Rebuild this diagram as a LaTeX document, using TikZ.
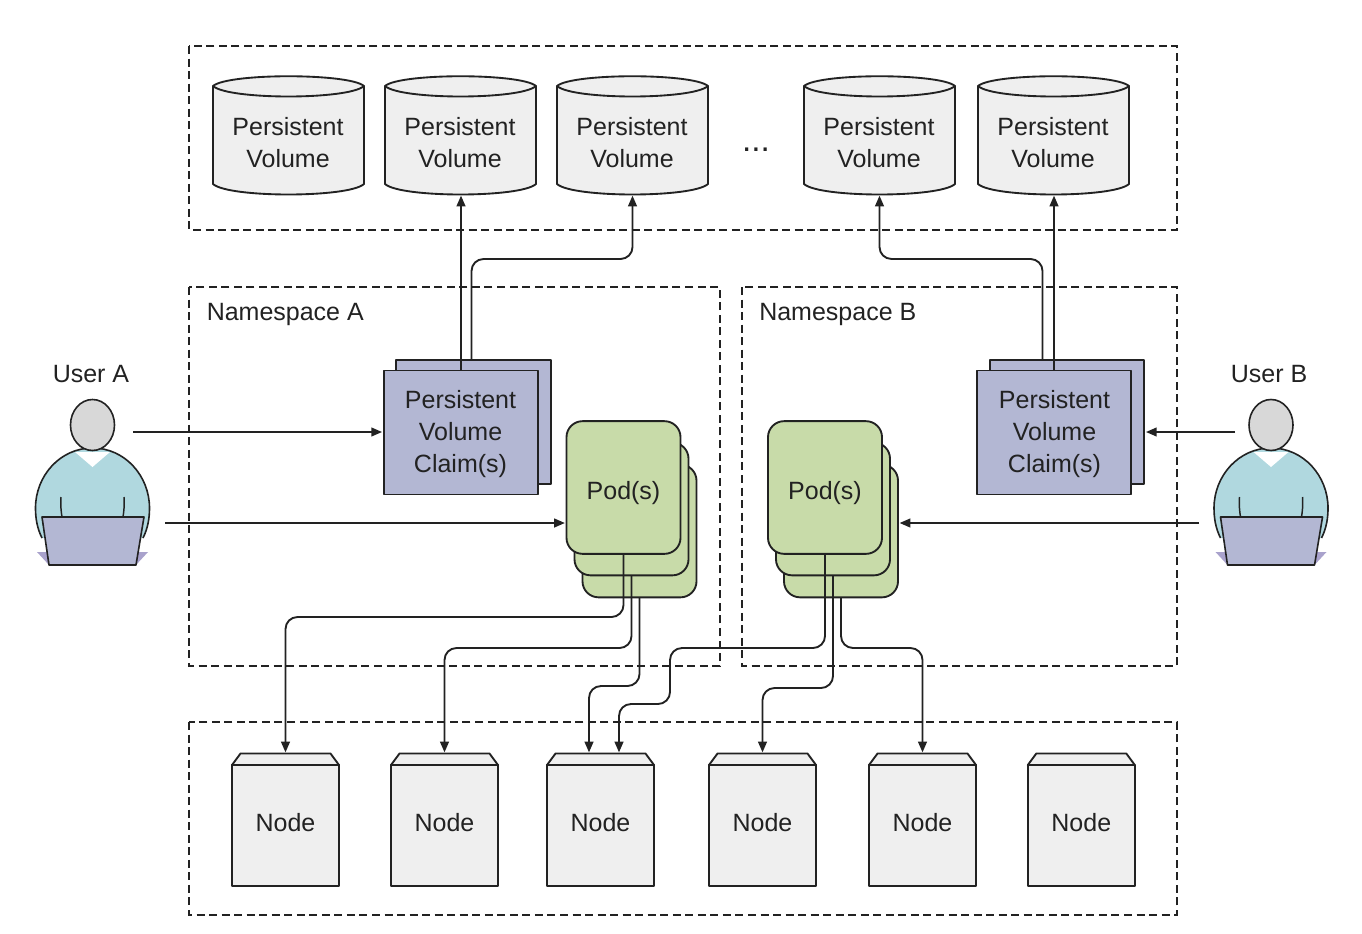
\documentclass[tikz,border=0pt]{standalone}
\usepackage{fontspec}
\setmainfont{Liberation Sans}
\usetikzlibrary{arrows.meta,calc}
\definecolor{ink}{HTML}{222222}
\definecolor{greyfill}{HTML}{EFEFEF}
\definecolor{podfill}{HTML}{C8DBA9}
\definecolor{pvcfill}{HTML}{B3B7D3}
\definecolor{bodyfill}{HTML}{B0D8DF}
\definecolor{headfill}{HTML}{D8D8D8}
\definecolor{shadowfill}{HTML}{A9A2CC}
\tikzset{
  x=0.75pt,y=-0.75pt,
  label text/.style={font=\fontsize{18.75}{24}\selectfont,text=ink,align=center,inner sep=0pt},
  zone/.style={draw=ink,line width=1.1pt,dash pattern=on 6pt off 3.4pt},
  outline/.style={draw=ink,line width=1.4pt,line join=round},
  conn/.style={draw=ink,line width=1.4pt,rounded corners=9pt,shorten >=1.2pt,-{Triangle[length=8pt,width=6.5pt]}},
  pvcbox/.style={rectangle,outline,fill=pvcfill,minimum width=116pt,minimum height=93pt,outer sep=0pt,inner sep=0pt},
  podbox/.style={rectangle,outline,fill=podfill,rounded corners=12pt,minimum width=85.5pt,minimum height=99.5pt,outer sep=0pt,inner sep=0pt},
  cylarea/.style={rectangle,minimum width=113.2pt,minimum height=88.5pt,outer sep=0pt,inner sep=0pt},
  nodearea/.style={rectangle,minimum width=80.2pt,minimum height=99pt,outer sep=0pt,inner sep=0pt},
}
\newcommand{\pvcyl}[2]{%
  \path[outline,fill=greyfill] (#2-75.5,86) -- (#2-75.5,184)
     .. controls (#2-60,198) and (#2+60,198) .. (#2+75.5,184)
     -- (#2+75.5,86)
     .. controls (#2+60,73) and (#2-60,73) .. (#2-75.5,86) -- cycle;
  \path[outline] (#2-75.5,86) .. controls (#2-60,100) and (#2+60,100) .. (#2+75.5,86);
  \node[cylarea] (#1) at (#2,135) {};
  \node[label text] (#1text) at (#2-0.5,143) {Persistent\\Volume};
}
\newcommand{\servernode}[2]{%
  \path[outline,fill=greyfill] (#2-45,753.5) -- (#2+45,753.5) -- (#2+53.5,765) -- (#2-53.5,765) -- cycle;
  \path[outline,fill=greyfill] (#2-53.5,765) rectangle (#2+53.5,886);
  \node[nodearea] (#1) at (#2,820) {};
  \node[label text] (#1text) at (#2,822.5) {Node};
}
\newcommand{\person}[1]{%
  \begin{scope}[shift={(#1,0)}]
    \fill[shadowfill] (37,552) -- (148,552) -- (136,565) -- (49,565) -- cycle;
    \fill[bodyfill] (42,538) .. controls (37,528) and (35.5,518) .. (35.5,508)
       .. controls (35.5,476) and (60,448) .. (92.5,448)
       .. controls (125,448) and (149.5,476) .. (149.5,508)
       .. controls (149.5,518) and (148,528) .. (143,538) -- cycle;
    \draw[ink,line width=1.2pt] (42,538) .. controls (37,528) and (35.5,518) .. (35.5,508)
       .. controls (35.5,476) and (60,448) .. (92.5,448)
       .. controls (125,448) and (149.5,476) .. (149.5,508)
       .. controls (149.5,518) and (148,528) .. (143,538);
    \fill[white] (75,452) -- (110,452) -- (92.5,467) -- cycle;
    \draw[ink,line width=1.2pt,fill=headfill] (92.5,425) ellipse (22 and 25.5);
    \draw[ink,line width=1.1pt] (61,497) .. controls (60.5,505) and (61,511) .. (62,517);
    \draw[ink,line width=1.1pt] (124,497) .. controls (124.5,505) and (124,511) .. (123,517);
    \draw[ink,line width=1.2pt,line join=round,fill=pvcfill] (42,517) -- (144,517) -- (136,565) -- (49,565) -- cycle;
  \end{scope}
}
\begin{document}
\begin{tikzpicture}
\useasboundingbox (0,0) rectangle (1362,934);
\fill[white] (0,0) rectangle (1362,934);

% dashed zones
\draw[zone] (189,46) rectangle (1177,230);
\draw[zone] (189,287) rectangle (720,666);
\draw[zone] (742,287) rectangle (1177,666);
\draw[zone] (189,722) rectangle (1177,915);

\node[label text,anchor=west] (nsA) at (206.5,314) {Namespace A};
\node[label text,anchor=west] (nsB) at (759,314) {Namespace B};
\node[label text] (userAlabel) at (91,374) {User A};
\node[label text] (userBlabel) at (1269,374) {User B};
\node[label text,font=\fontsize{25}{28}\selectfont] (dots) at (756,150) {...};

% volumes
\pvcyl{pvone}{288.5}
\pvcyl{pvtwo}{460.5}
\pvcyl{pvthree}{632.5}
\pvcyl{pvfour}{879.5}
\pvcyl{pvfive}{1053.5}

% claims
\node[pvcbox] (claimAback) at (473.5,422) {};
\node[pvcbox] (claimA) at (461,432.5) {};
\node[label text] (claimAtext) at (460.5,434) {Persistent\\Volume\\Claim(s)};
\node[pvcbox] (claimBback) at (1067,422) {};
\node[pvcbox] (claimB) at (1054,432.5) {};
\node[label text] (claimBtext) at (1054.5,434) {Persistent\\Volume\\Claim(s)};

% pods
\node[podbox] (podAback) at (639.5,531) {};
\node[podbox] (podAmid) at (631.5,509) {};
\node[podbox] (podA) at (623.5,487.5) {};
\node[label text] (podAtext) at (623.5,493.5) {Pod(s)};
\node[podbox] (podBback) at (841,531) {};
\node[podbox] (podBmid) at (833,509) {};
\node[podbox] (podB) at (825,487.5) {};
\node[label text] (podBtext) at (825,493.5) {Pod(s)};

% servers
\servernode{nodeone}{285.5}
\servernode{nodetwo}{444.5}
\servernode{nodethree}{600.5}
\servernode{nodefour}{762.5}
\servernode{nodefive}{922.5}
\servernode{nodesix}{1081.3}

% users
\person{0}
\person{1178.5}

% free ends and offsets
\coordinate (uaone) at (133,432);
\coordinate (uatwo) at (165,523);
\coordinate (ubone) at (1235,432);
\coordinate (ubtwo) at (1199,523);
\coordinate (claimAout) at ($(claimAback.north)+(-2,0)$);
\coordinate (claimBout) at ($(claimBback.north)+(-24.5,0)$);
\coordinate (nthreeL) at ($(nodethree.north)+(-11.5,0)$);
\coordinate (nthreeR) at ($(nodethree.north)+(18.5,0)$);

% user connectors
\draw[conn] (uaone) -- (claimA.west |- uaone);
\draw[conn] (uatwo) -- (podA.west |- uatwo);
\draw[conn] (ubone) -- (claimBback.east |- ubone);
\draw[conn] (ubtwo) -- (podBback.east |- ubtwo);

% claim to volume
\draw[conn] (claimA.north) -- (claimA.north |- pvtwo.south);
\draw[conn] (claimAout) -- (claimAout |- 0,259) -- (pvthree.south |- 0,259) -- (pvthree.south);
\draw[conn] (claimBout) -- (claimBout |- 0,259) -- (pvfour.south |- 0,259) -- (pvfour.south);
\draw[conn] (claimB.north) -- (claimB.north |- pvfive.south);

% pod to server
\draw[conn] (podA.south) -- (podA.south |- 0,617) -- (nodeone.north |- 0,617) -- (nodeone.north);
\draw[conn] (podAmid.south) -- (podAmid.south |- 0,648) -- (nodetwo.north |- 0,648) -- (nodetwo.north);
\draw[conn] (podAback.south) -- (podAback.south |- 0,686) -- (nthreeL |- 0,686) -- (nthreeL);
\draw[conn] (podB.south) -- (podB.south |- 0,648) -- (670,648) -- (670,704) -- (nthreeR |- 0,704) -- (nthreeR);
\draw[conn] (podBmid.south) -- (podBmid.south |- 0,688) -- (nodefour.north |- 0,688) -- (nodefour.north);
\draw[conn] (podBback.south) -- (podBback.south |- 0,648) -- (nodefive.north |- 0,648) -- (nodefive.north);
\end{tikzpicture}
\end{document}
